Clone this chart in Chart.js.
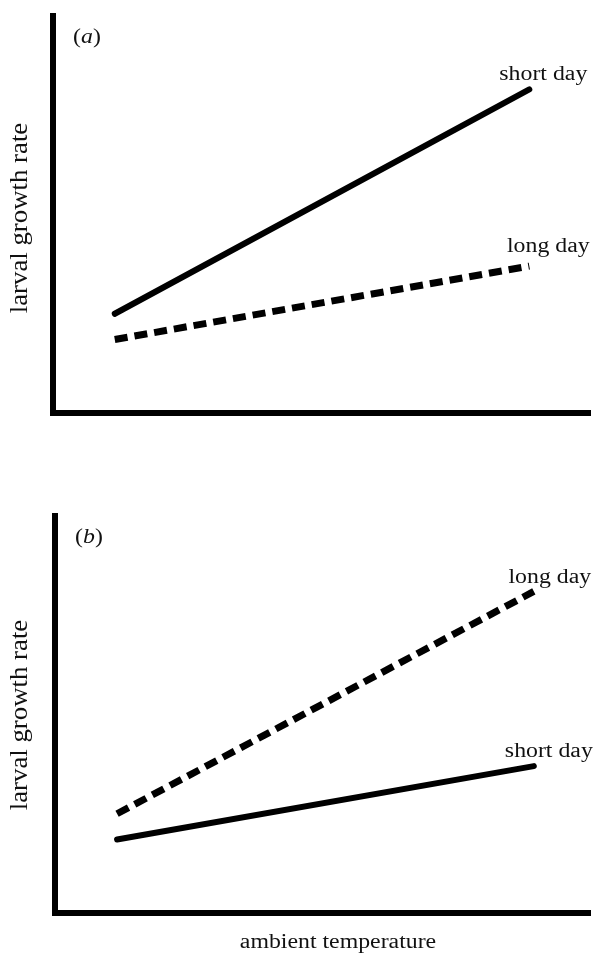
<!DOCTYPE html>
<html>
<head>
<meta charset="utf-8">
<script src="https://cdn.jsdelivr.net/npm/chart.js@4"></script>
<style>
  body { margin: 0; background: #fff; }
  .box { position: absolute; left: 0; }
</style>
</head>
<body>
<canvas id="chartA" class="box" width="596" height="478" style="top:0px"></canvas>
<canvas id="chartB" class="box" width="596" height="456" style="top:500px"></canvas>
<script>
// valeurs (echelles sans graduations, 0..10)
var tempA = [1.15, 8.87];
var tempB = [1.16, 8.95];
var shortDayA = [2.5, 8.15];
var longDayA = [1.85, 3.7];
var shortDayB = [1.85, 3.7];
var longDayB = [2.5, 8.1];

var yTitle = "larval growth rate";
var xTitle = "ambient temperature";
var FONT = "20px 'Liberation Serif', 'Times New Roman', serif";
var IFONT = "italic 20px 'Liberation Serif', 'Times New Roman', serif";
var SX = 1.19;

function points(xs, ys) {
    var out = [];
    for (var i = 0; i < xs.length; i++) out.push({ x: xs[i], y: ys[i] });
    return out;
}

// texte un peu etire comme sur la figure d'origine
function drawText(ctx, txt, x, y, rot, sx, sy, font) {
    ctx.save();
    ctx.translate(x, y);
    ctx.rotate(rot);
    ctx.scale(sx, sy);
    ctx.font = font || FONT;
    ctx.fillStyle = "#111";
    ctx.textAlign = "center";
    ctx.textBaseline = "middle";
    ctx.fillText(txt, 0, 0);
    ctx.restore();
}

function drawPanelTag(ctx, letter, x, y) {
    ctx.save();
    ctx.translate(x, y);
    ctx.scale(SX, 1);
    ctx.fillStyle = "#111";
    ctx.textBaseline = "middle";
    ctx.font = FONT;
    var w1 = ctx.measureText("(").width;
    ctx.font = IFONT;
    var w2 = ctx.measureText(letter).width;
    ctx.font = FONT;
    var w3 = ctx.measureText(")").width;
    var start = -(w1 + w2 + w3) / 2;
    ctx.textAlign = "left";
    ctx.fillText("(", start, 0);
    ctx.font = IFONT;
    ctx.fillText(letter, start + w1, 0);
    ctx.font = FONT;
    ctx.fillText(")", start + w1 + w2, 0);
    ctx.restore();
}

var labelsPlugin = {
    id: "labels",
    afterDraw: function (chart) {
        var o = chart.options.plugins.labels;
        var ctx = chart.ctx;
        var area = chart.chartArea;
        var xs = chart.scales.x, ys = chart.scales.y;

        drawPanelTag(ctx, o.tag, area.left + 34, area.top + 22);
        drawText(ctx, yTitle, 21, o.yTitleY, -Math.PI / 2, 1.34, 1.22);
        if (o.xTitle) drawText(ctx, xTitle, 338, o.xTitleY, 0, SX, 1);

        chart.data.datasets.forEach(function (ds, i) {
            var last = ds.data[ds.data.length - 1];
            var px = xs.getPixelForValue(last.x);
            var py = ys.getPixelForValue(last.y);
            drawText(ctx, ds.label, px + o.offsets[i][0], py + o.offsets[i][1], 0, SX, 1);
        });
    }
};

function makeChart(id, xs, shortDay, longDay, pad, extra) {
    var ctx = document.getElementById(id).getContext("2d");
    return new Chart(ctx, {
        type: "line",
        data: {
            datasets: [{
                label: "short day",
                data: points(xs, shortDay),
                borderColor: "#000",
                borderWidth: 6,
                borderCapStyle: "round",
                pointRadius: 0,
                fill: false
            }, {
                label: "long day",
                data: points(xs, longDay),
                borderColor: "#000",
                borderWidth: 7,
                borderDash: [13, 7],
                pointRadius: 0,
                fill: false
            }]
        },
        options: {
            responsive: false,
            animation: false,
            layout: { padding: pad },
            scales: {
                x: {
                    type: "linear", min: 0, max: 10,
                    ticks: { display: false },
                    grid: { display: false, drawTicks: false },
                    border: { display: true, color: "#000", width: 6 }
                },
                y: {
                    type: "linear", min: 0, max: 10,
                    ticks: { display: false },
                    grid: { display: false, drawTicks: false },
                    border: { display: true, color: "#000", width: 6 }
                }
            },
            plugins: {
                legend: { display: false },
                tooltip: { enabled: false },
                labels: extra
            }
        },
        plugins: [labelsPlugin]
    });
}

makeChart("chartA", tempA, shortDayA, longDayA,
    { left: 53, top: 16, right: 6, bottom: 65 },
    { tag: "a", yTitleY: 218, xTitle: false, offsets: [[14, -15], [19, -19]] });

makeChart("chartB", tempB, shortDayB, longDayB,
    { left: 55, top: 16, right: 6, bottom: 43 },
    { tag: "b", yTitleY: 215, xTitle: true, xTitleY: 443, offsets: [[15, -14], [16, -14]] });
</script>
</body>
</html>
